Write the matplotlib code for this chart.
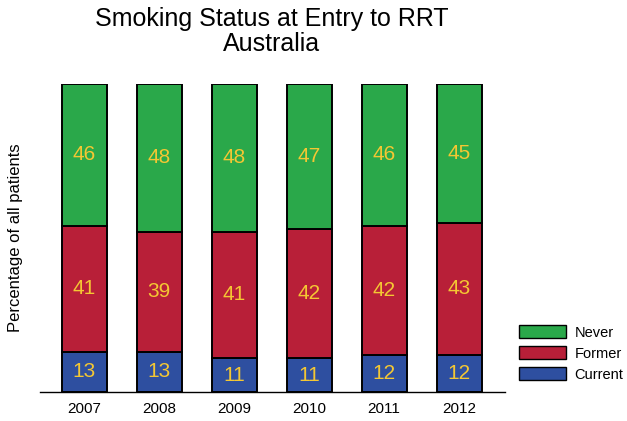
import matplotlib
matplotlib.use("Agg")
import matplotlib.pyplot as plt
from matplotlib.patches import Patch

plt.rcParams['font.family'] = ['Liberation Sans', 'DejaVu Sans']

years = ['2007', '2008', '2009', '2010', '2011', '2012']
current = [13, 13, 11, 11, 12, 12]
former = [41, 39, 41, 42, 42, 43]
never = [46, 48, 48, 47, 46, 45]

c_cur = '#2e4fa0'
c_for = '#b81f38'
c_nev = '#2aa84a'
c_txt = '#f4c733'

fig = plt.figure(figsize=(6.27, 4.21), dpi=100)
ax = fig.add_axes([40/627, 1-392/421, (505-40)/627, (392-84)/421])

x = list(range(len(years)))
w = 0.6
bottom2 = [a + b for a, b in zip(current, former)]
ax.bar(x, current, w, color=c_cur, edgecolor='black', linewidth=1.4)
ax.bar(x, former, w, bottom=current, color=c_for, edgecolor='black', linewidth=1.4)
ax.bar(x, never, w, bottom=bottom2, color=c_nev, edgecolor='black', linewidth=1.4)

for i in x:
    ax.text(i, current[i]/2, str(current[i]), ha='center', va='center', color=c_txt, fontsize=15)
    ax.text(i, current[i] + former[i]/2, str(former[i]), ha='center', va='center', color=c_txt, fontsize=15)
    ax.text(i, bottom2[i] + never[i]/2, str(never[i]), ha='center', va='center', color=c_txt, fontsize=15)

ax.set_xlim(-0.587, 5.613)
ax.set_ylim(0, 100)
ax.set_xticks(x)
ax.set_xticklabels(years, fontsize=11)
ax.tick_params(axis='x', length=0, pad=7)
ax.set_yticks([])
for s in ['top', 'right', 'left']:
    ax.spines[s].set_visible(False)
ax.spines['bottom'].set_linewidth(1.0)
ax.set_ylabel('Percentage of all patients', fontsize=12, labelpad=12)

fig.text(272/627, 1-31.5/421, 'Smoking Status at Entry to RRT\nAustralia', ha='center', va='center',
         fontsize=18, linespacing=1.05)

handles = [Patch(facecolor=c_nev, edgecolor='black', label='Never'),
           Patch(facecolor=c_for, edgecolor='black', label='Former'),
           Patch(facecolor=c_cur, edgecolor='black', label='Current')]
fig.legend(handles=handles, loc='lower left', bbox_to_anchor=(506/627, 1-395/421), frameon=False,
           fontsize=10.5, handlelength=3.2, handleheight=1.0, labelspacing=0.45, handletextpad=0.6)

fig.savefig('out.png', dpi=100)
